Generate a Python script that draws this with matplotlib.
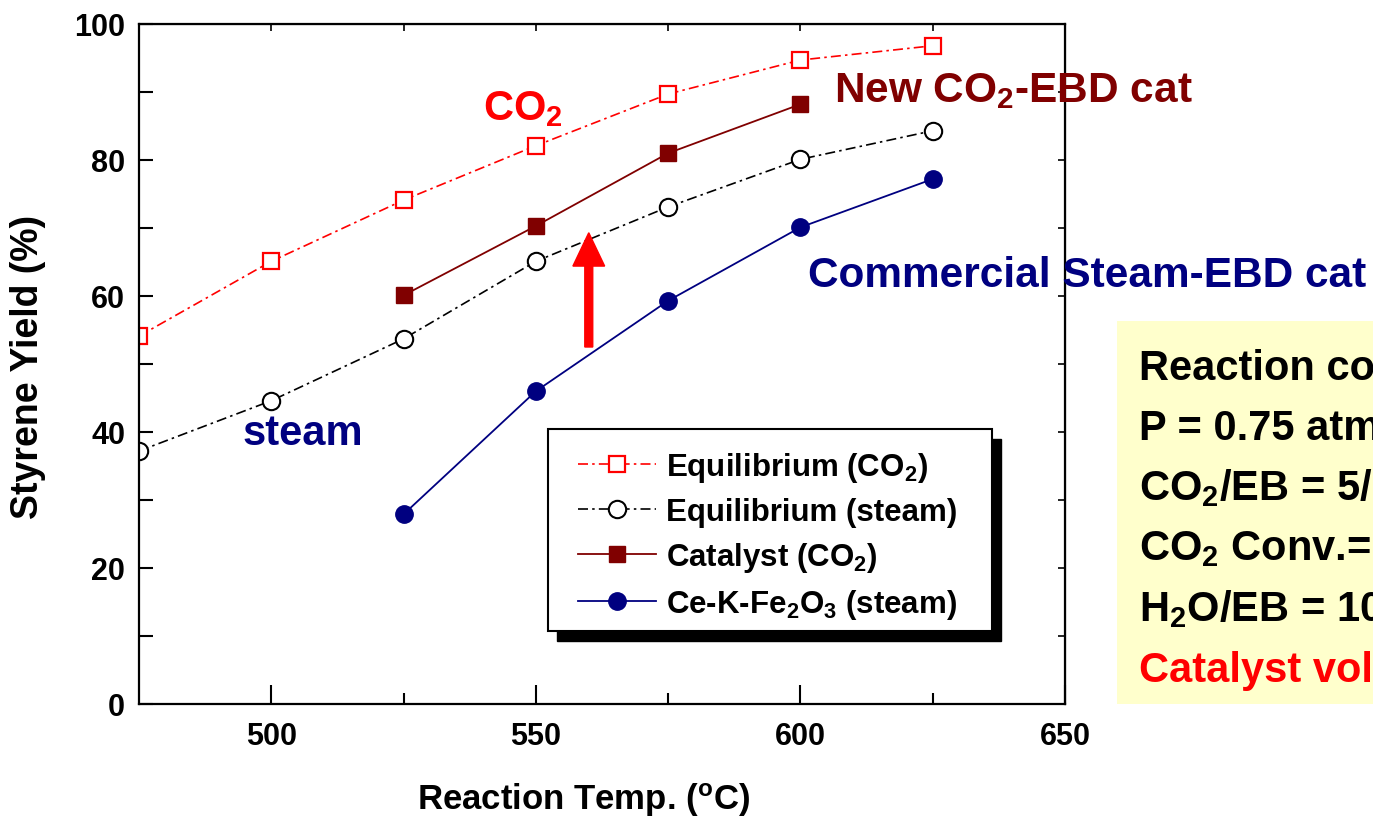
import matplotlib
matplotlib.use('Agg')
import matplotlib.pyplot as plt
from matplotlib.patches import Rectangle

plt.rcParams['font.family'] = ['Liberation Sans', 'DejaVu Sans']
plt.rcParams['font.weight'] = 'bold'
plt.rcParams['mathtext.fontset'] = 'custom'
plt.rcParams['mathtext.rm'] = 'Liberation Sans:bold'
plt.rcParams['mathtext.bf'] = 'Liberation Sans:bold'
plt.rcParams['mathtext.it'] = 'Liberation Sans:bold'

# data
temp_eq = [475, 500, 525, 550, 575, 600, 625]
eq_co2 = [54.1, 65.1, 74.1, 82.1, 89.7, 94.7, 96.8]
eq_steam = [37.2, 44.6, 53.7, 65.1, 73.1, 80.1, 84.3]
temp_cat = [525, 550, 575, 600]
cat_co2 = [60.1, 70.3, 81.0, 88.2]
temp_ce = [525, 550, 575, 600, 625]
ce_steam = [27.9, 46.0, 59.3, 70.1, 77.2]

box_lines = ['Reaction conditions', 'P = 0.75 atm', r'CO$_2$/EB = 5/1',
             r'CO$_2$ Conv.=', r'H$_2$O/EB = 10/1', 'Catalyst volume']

W, H = 1373, 820
x0, x1, y0, y1 = 139, 1065, 705, 25  # axes box in pixels


def ax_frac(px, py):
    return (px - x0) / (x1 - x0), (y0 - py) / (y0 - y1)


fig = plt.figure(figsize=(13.73, 8.2), dpi=100)
ax = fig.add_axes([x0 / W, (H - y0) / H, (x1 - x0) / W, (y0 - y1) / H])

dd = (0, (6, 2.5, 1.5, 2.5))
ax.plot(temp_eq, eq_co2, color='red', ls=dd, lw=1.2, marker='s', ms=11.5,
        mfc='white', mec='red', mew=1.6, label=r'Equilibrium (CO$_2$)')
ax.plot(temp_eq, eq_steam, color='black', ls=dd, lw=1.2, marker='o', ms=12.5,
        mfc='white', mec='black', mew=1.5, label='Equilibrium (steam)')
ax.plot(temp_cat, cat_co2, color='#800000', lw=1.3, marker='s', ms=11.5,
        mfc='#800000', mec='#800000', label=r'Catalyst (CO$_2$)')
ax.plot(temp_ce, ce_steam, color='#000080', lw=1.3, marker='o', ms=12.5,
        mfc='#000080', mec='#000080', label=r'Ce-K-Fe$_2$O$_3$ (steam)')

ax.set_xlim(475, 650)
ax.set_ylim(0, 100)
ax.set_xticks([500, 550, 600, 650])
ax.set_xticks([525, 575, 625], minor=True)
ax.set_yticks(range(0, 101, 20))
ax.set_yticks(range(10, 100, 20), minor=True)
ax.tick_params(axis='x', which='major', direction='in', length=14, width=1.5,
               labelsize=22, pad=12)
ax.tick_params(axis='x', which='minor', direction='in', length=8, width=1.5)
ax.tick_params(axis='y', which='both', direction='in', length=10, width=1.5,
               labelsize=22, pad=10)
for s in ax.spines.values():
    s.set_linewidth(1.6)

top = ax.secondary_xaxis('top')
top.set_xticks(range(500, 650, 25), labels=[''] * 6)
top.tick_params(direction='in', length=5, width=1.2)
right = ax.secondary_yaxis('right')
right.set_yticks(range(10, 100, 10), labels=[''] * 9)
right.tick_params(direction='in', length=5, width=1.2)

ax.set_xlabel(r'Reaction Temp. ($^\mathbf{o}$C)', fontsize=25, fontweight='bold')
ax.xaxis.set_label_coords(*ax_frac(584, 781))
ax.set_ylabel('Styrene Yield (%)', fontsize=27, fontweight='bold')
ax.yaxis.set_label_coords(*ax_frac(46, 367))

ax.text(540, 86, r'CO$_2$', color='red', fontsize=30, fontweight='bold', va='baseline')
ax.text(*ax_frac(834, 102), r'New CO$_2$-EBD cat', transform=ax.transAxes,
        color='#800000', fontsize=30.5, fontweight='bold', va='baseline', clip_on=False)
ax.text(*ax_frac(808, 287), 'Commercial Steam-EBD cat', transform=ax.transAxes,
        color='#000080', fontsize=30.5, fontweight='bold', va='baseline', clip_on=False)
ax.text(*ax_frac(243, 445), 'steam', transform=ax.transAxes,
        color='#000080', fontsize=30, fontweight='bold', va='baseline')

ax.arrow(560, 52.5, 0, 16.8, width=1.5, head_width=6.0, head_length=4.9,
         length_includes_head=True, color='red', zorder=5)

# legend frame with a solid black offset shadow
lx0, ly0 = ax_frac(548, 632)
lx1, ly1 = ax_frac(992, 430)
sx, sy = 9 / (x1 - x0), 10 / (y0 - y1)
ax.add_patch(Rectangle((lx0 + sx, ly0 - sy), lx1 - lx0, ly1 - ly0, transform=ax.transAxes,
                       facecolor='black', edgecolor='black', zorder=6))
ax.add_patch(Rectangle((lx0, ly0), lx1 - lx0, ly1 - ly0, transform=ax.transAxes,
                       facecolor='white', edgecolor='black', lw=1.5, zorder=6.5))
leg = ax.legend(loc='upper left', bbox_to_anchor=ax_frac(578, 451),
                borderaxespad=0, borderpad=0, fontsize=22.5, frameon=False,
                handlelength=2.5, handletextpad=0.3, labelspacing=0.42)
leg.set_zorder(7)

fig.patches.append(Rectangle((1117 / W, (H - y0) / H), 0.19, (705 - 322) / H,
                             transform=fig.transFigure, facecolor='#FFFFCC',
                             edgecolor='none', zorder=0))
baselines = [380, 440, 500, 560, 621, 682]
for i, (txt, yb) in enumerate(zip(box_lines, baselines)):
    fig.text(1139 / W, 1 - yb / H, txt, fontsize=30, fontweight='bold',
             color='red' if i == len(box_lines) - 1 else 'black', va='baseline')

fig.savefig('out.png', dpi=100)
